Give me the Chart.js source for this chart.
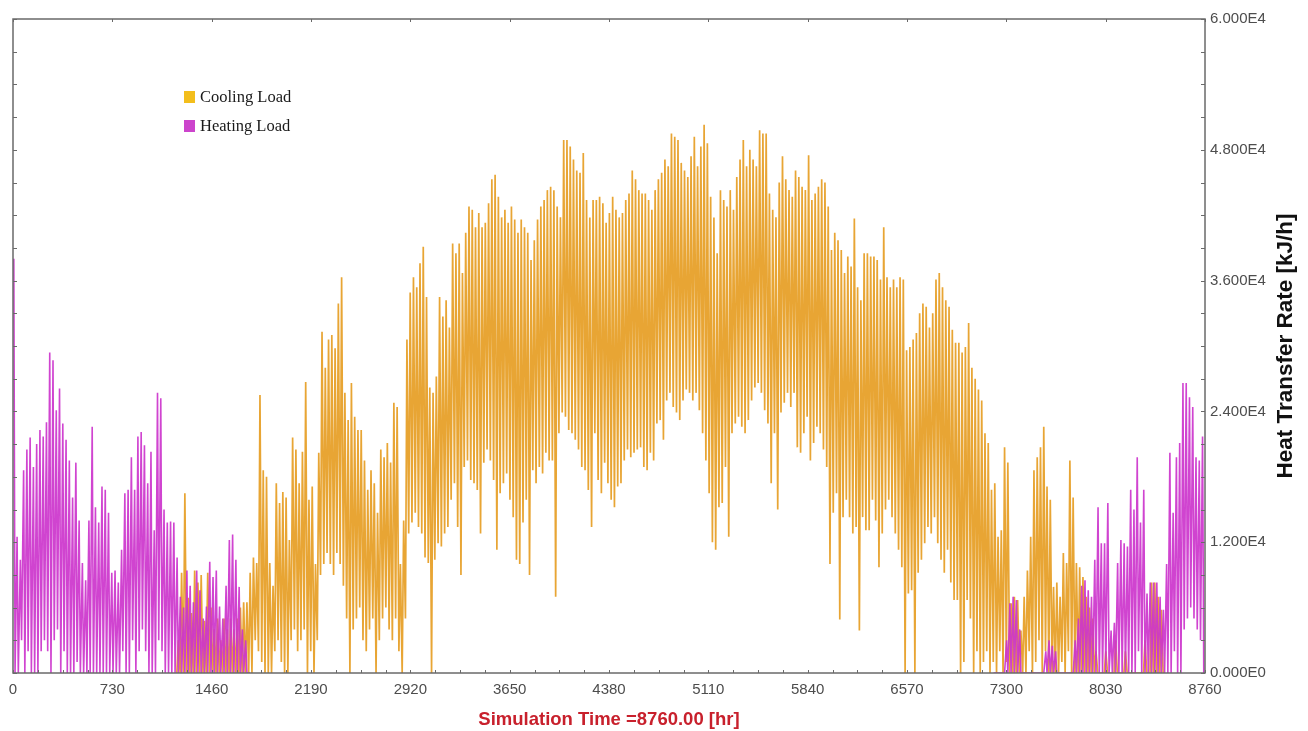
<!DOCTYPE html>
<html>
<head>
<meta charset="utf-8">
<script src="https://cdn.jsdelivr.net/npm/chart.js@4.4.1/dist/chart.umd.min.js"></script>
<style>
  html, body { margin: 0; padding: 0; background: #fff; }
  #wrap { width: 1308px; height: 731px; }
</style>
</head>
<body>
<div id="wrap"><canvas id="loadChart" width="1308" height="731"></canvas></div>
<script>
// hourly TRNSYS output read back as one low + one peak per day, values in 1000 kJ/h
const seriesNames = ['Cooling Load', 'Heating Load'];
const xTicks = [0, 730, 1460, 2190, 2920, 3650, 4380, 5110, 5840, 6570, 7300, 8030, 8760];
const yTicks = [0, 12, 24, 36, 48, 60];

const COOL_FIRST_DAY = 50;
const coolPeak = [
  3, 9.2, 16.5, 6.9, 5.5, 9.4, 8.3, 9, 4.8, 9.2,
  6, 4, 5, 3, 5, 4, 5, 4, 5, 6,
  6.5, 6.5, 9.2, 10.6, 10.1, 25.5, 18.6, 18, 10.1, 8,
  17.4, 15.6, 16.6, 16.1, 12.2, 21.6, 20.5, 17.4, 20.3, 26.7,
  15.9, 17.1, 10, 20.2, 31.3, 28, 30.6, 31, 29.8, 33.9,
  36.3, 25.7, 23.2, 26.6, 23.5, 22.3, 22.3, 19.5, 16.8, 18.6,
  17.4, 14.7, 20.5, 19.8, 21.1, 19.3, 24.8, 24.4, 10, 14,
  30.6, 34.9, 36.3, 35.4, 37.6, 39.1, 34.5, 26.2, 25.7, 27.2,
  34.5, 32.7, 34.2, 31.7, 39.4, 38.5, 39.4, 36.7, 40.4, 42.8,
  42.5, 40.9, 42.2, 40.9, 41.3, 43.1, 45.3, 45.7, 43.7, 41.8,
  42.5, 41.3, 42.8, 41.6, 40.4, 41.6, 40.9, 40.4, 37.9, 39.7,
  41.6, 42.8, 43.4, 44.3, 44.6, 44.3, 42.8, 41.8, 48.9, 48.9,
  48.3, 47.1, 46.1, 45.9, 47.7, 43.4, 41.8, 43.4, 43.4, 43.7,
  43.1, 41.3, 42.2, 43.7, 42.5, 41.8, 42.2, 43.4, 44, 46.1,
  45.3, 44.3, 44, 44, 43.4, 42.5, 44.3, 45.3, 45.9, 47.1,
  46.5, 49.5, 49.2, 48.9, 46.8, 46.1, 45.5, 47.4, 49.2, 46.5,
  48.3, 50.3, 48.6, 43.7, 41.8, 38.5, 44.3, 43.4, 42.8, 44.3,
  42.5, 45.5, 47.1, 48.9, 46.5, 48, 47.1, 46.5, 49.8, 49.5,
  49.5, 44, 42.5, 41.8, 45, 47.4, 45.3, 44.3, 43.7, 46.1,
  45.5, 44.6, 44.3, 47.5, 43.4, 44, 44.6, 45.3, 45, 42.8,
  38.8, 40.4, 39.7, 38.8, 36.7, 38.2, 37.3, 41.7, 35.4, 34.2,
  38.5, 38.5, 38.2, 38.2, 37.9, 36.1, 40.9, 36.3, 35.4, 36.1,
  35.4, 36.3, 36.1, 29.6, 29.9, 30.6, 31.2, 33, 33.9, 33.6,
  31.7, 33, 36.1, 36.7, 35.4, 34.2, 33.6, 31.5, 30.3, 30.3,
  29.4, 29.9, 32.1, 28, 27, 26, 25, 22, 21.1, 16.8,
  17.4, 12.5, 13.1, 20.7, 19.3, 6.4, 7, 6.7, 3.9, 7,
  9.4, 12.5, 18.6, 19.8, 20.7, 22.6, 17.1, 15.9, 7.9, 8.3,
  7, 11, 10.1, 19.5, 16.1, 10.1, 9.7, 8.8, 7, 6,
  5, 2, 0, 0, 2, 0, 0, 3, 0, 0,
  2, 0, 0, 0, 0, 0, 3, 0, 8.3, 8.3,
  7, 5.8, 0
];
const coolLow = [
  0, 0, 0, 0, 0, 0, 0, 0, 0, 0,
  0, 0, 0, 0, 0, 0, 0, 0, 0, 0,
  0, 0, 0, 0, 3, 2, 1, 0, 0, 0,
  2, 3, 1, 0, 0, 3, 4, 2, 3, 4,
  0, 2, 0, 3, 9, 10, 11, 10, 9, 11,
  10, 8, 5, 0, 4, 5, 6, 3, 2, 4,
  5, 0, 3, 5, 6, 4, 3, 5, 2, 0,
  5, 12.8, 13.8, 14.7, 13.4, 12.8, 10.6, 10.1, 0, 10.4,
  11.9, 11.6, 12.8, 13.4, 15.9, 17.4, 13.4, 9, 18.9, 19.5,
  17.7, 17.4, 16.8, 12.8, 19.3, 20.5, 19.5, 17.7, 11.3, 16.5,
  17.4, 18.3, 15.9, 14.3, 10.4, 10, 13.8, 15.9, 9, 18.6,
  17.4, 18.9, 18.3, 20.2, 19.5, 19.5, 7, 22, 23.9, 23.5,
  22.3, 22, 21.4, 20.5, 18.9, 18.6, 16.8, 13.4, 22, 17.7,
  16.5, 19.3, 17.4, 15.9, 15.2, 17.1, 17.4, 19.5, 20.5, 19.8,
  20.2, 20.5, 20.7, 18.9, 18.6, 20.2, 19.5, 22.9, 23.2, 21.4,
  25, 25.7, 24.4, 23.9, 23.2, 25, 26, 25.7, 25, 25.7,
  24.1, 22, 19.5, 16.5, 12, 11.3, 15.2, 15.6, 18.9, 12.5,
  22, 22.9, 23.5, 22.6, 22, 23.2, 25, 26.2, 26.6, 25.7,
  24.1, 22.9, 17.4, 22, 15, 23.9, 24.8, 25.7, 24.4, 25.7,
  20.7, 20.2, 22, 23.5, 19.5, 21.1, 22.6, 22, 20.5, 18.9,
  10, 14.7, 16.5, 4.9, 14.3, 15.9, 14.3, 12.8, 13.4, 3.9,
  14.3, 13.1, 13.1, 15.9, 14, 9.7, 12.8, 15, 15.9, 14.3,
  12.8, 11.3, 9.7, 0, 7.3, 7.6, 0, 9.2, 10.4, 11.9,
  13.4, 12.8, 14.3, 11.9, 10.4, 9.2, 11.3, 8.3, 6.7, 6.7,
  0, 1, 6.7, 5, 0, 2, 0, 1, 2, 0,
  1, 0, 2, 0, 1, 0, 0, 0, 0, 0,
  0, 2, 0, 1, 3, 0, 2, 0, 0, 0,
  0, 1, 0, 2, 0, 0, 0, 0, 0, 0,
  0, 0, 0, 0, 0, 0, 0, 0, 0, 0,
  0, 0, 0, 0, 0, 0, 0, 0, 0, 0,
  0, 0, 0
];

// heating: start of year and end of year
const HEAT_A_FIRST_DAY = 0;
const heatAPeak = [
  38, 12.5, 10.4, 18.6, 20.5, 21.6, 18.9, 21, 22.3, 21.7,
  23, 29.4, 28.7, 24.1, 26.1, 22.9, 21.4, 19.5, 16.1, 19.3,
  14, 10.1, 8.5, 14, 22.6, 15.2, 13.8, 17.1, 16.8, 14.7,
  9.2, 9.4, 8.3, 11.3, 16.5, 16.8, 19.8, 16.8, 21.7, 22.1,
  20.9, 17.4, 20.3, 13.1, 25.7, 25.2, 15, 13.8, 13.9, 13.8,
  10.6, 7, 6, 9.4, 8, 6.5, 9.4, 7.6, 5, 6.1,
  10.2, 8.8, 9.4, 6.1, 5, 8, 12.2, 12.7, 10.4, 7.9,
  4, 3, 0
];
const heatALow = [
  0, 0, 3, 0, 2, 0, 0, 0, 2, 3,
  2, 0, 3, 4, 0, 2, 0, 0, 0, 1,
  0, 0, 0, 0, 0, 0, 0, 0, 0, 0,
  0, 0, 0, 2, 0, 0, 3, 0, 2, 4,
  2, 0, 0, 0, 3, 2, 0, 0, 0, 0,
  0, 0, 0, 0, 0, 0, 0, 0, 0, 0,
  0, 0, 0, 0, 0, 0, 0, 0, 0, 0,
  0, 0, 0
];
const HEAT_B_FIRST_DAY = 300;
const heatBPeak = [
  0, 0, 0, 0, 3, 6.4, 7, 6.7, 4, 0,
  0, 0, 0, 0, 0, 0, 2, 3, 2.5, 2,
  0, 0, 0, 0, 0, 3, 5, 8, 8.5, 7.6,
  7, 10.4, 15.2, 11.9, 11.9, 15.6, 3.9, 4.6, 10.1, 12.2,
  11.9, 11.6, 16.8, 15, 19.8, 13.8, 16.8, 7.3, 8.3, 8.3,
  8.3, 7, 5.8, 10, 20.2, 14.7, 19.8, 21.1, 26.6, 26.6,
  25.3, 24.4, 19.8, 19.5, 21.7
];
const heatBLow = [
  0, 0, 0, 0, 0, 0, 0, 0, 0, 0,
  0, 0, 0, 0, 0, 0, 0, 0, 0, 0,
  0, 0, 0, 0, 0, 0, 0, 0, 0, 0,
  0, 0, 0, 0, 0, 0, 0, 0, 0, 0,
  0, 0, 0, 0, 2, 0, 0, 0, 0, 0,
  0, 0, 0, 0, 0, 2, 0, 0, 4, 5,
  6, 5, 4, 3, 0
];

// hour of the day where the low / peak sits
const COOL_LOW_HOUR = 4, COOL_PEAK_HOUR = 15;
const HEAT_PEAK_HOUR = 6, HEAT_LOW_HOUR = 15;

const coolColor = '#E8A534';
const heatColor = 'rgba(204,52,204,0.92)';
const swatches = ['#F3BE1C', '#CC44CC'];

function dailyPoints(firstDay, lows, peaks, lowHour, peakHour) {
  const pts = [];
  peaks.forEach((p, i) => {
    const base = (firstDay + i) * 24;
    const a = {x: base + lowHour, y: lows[i]};
    const b = {x: base + peakHour, y: p};
    if (lowHour < peakHour) pts.push(a, b); else pts.push(b, a);
  });
  return pts;
}

function sci(v) {
  if (v === 0) return '0.000E0';
  const e = Math.floor(Math.log10(v) + 1e-9);
  return (v / Math.pow(10, e)).toFixed(3) + 'E' + e;
}

const coolData = dailyPoints(COOL_FIRST_DAY, coolLow, coolPeak, COOL_LOW_HOUR, COOL_PEAK_HOUR);
const heatData = dailyPoints(HEAT_A_FIRST_DAY, heatALow, heatAPeak, HEAT_LOW_HOUR, HEAT_PEAK_HOUR)
  .concat([{x: (HEAT_A_FIRST_DAY + heatAPeak.length) * 24, y: null}])
  .concat(dailyPoints(HEAT_B_FIRST_DAY, heatBLow, heatBPeak, HEAT_LOW_HOUR, HEAT_PEAK_HOUR));

const framePlugin = {
  id: 'frame',
  afterDraw(chart) {
    const {ctx, chartArea: a, scales: {x, y}} = chart;
    ctx.save();
    ctx.strokeStyle = '#6a6a6a';
    ctx.lineWidth = 1.5;
    ctx.strokeRect(a.left, a.top, a.right - a.left, a.bottom - a.top);

    // small inward tick marks
    ctx.lineWidth = 1;
    ctx.beginPath();
    for (let v = 0; v <= 60; v += 3) {
      const py = Math.round(y.getPixelForValue(v)) + 0.5;
      ctx.moveTo(a.left, py); ctx.lineTo(a.left + 4, py);
      ctx.moveTo(a.right, py); ctx.lineTo(a.right - 4, py);
    }
    for (let h = 0; h <= 8760; h += 182.5) {
      const px = Math.round(x.getPixelForValue(h)) + 0.5;
      ctx.moveTo(px, a.bottom); ctx.lineTo(px, a.bottom - 3);
      if (h % 730 === 0) { ctx.moveTo(px, a.top); ctx.lineTo(px, a.top + 3); }
    }
    ctx.stroke();

    // legend
    ctx.font = '16.5px "Liberation Serif", "Times New Roman", serif';
    ctx.textBaseline = 'middle';
    ctx.textAlign = 'left';
    seriesNames.forEach((name, i) => {
      const top = 91 + i * 29;
      ctx.fillStyle = swatches[i];
      ctx.fillRect(184, top, 11, 12);
      ctx.fillStyle = '#1a1a1a';
      ctx.fillText(name, 200, top + 7);
    });

    // right axis title, reading bottom to top
    ctx.translate(1286, (a.top + a.bottom) / 2);
    ctx.rotate(-Math.PI / 2);
    ctx.textAlign = 'center';
    ctx.fillStyle = '#111';
    ctx.font = 'bold 22.5px "Liberation Sans", Arial, sans-serif';
    ctx.fillText('Heat Transfer Rate [kJ/h]', 0, 0);
    ctx.restore();
  }
};

new Chart(document.getElementById('loadChart'), {
  type: 'line',
  data: {
    datasets: [
      {label: seriesNames[0], data: coolData, borderColor: coolColor, borderWidth: 1.7, order: 2},
      {label: seriesNames[1], data: heatData, borderColor: heatColor, borderWidth: 1.6, order: 1}
    ]
  },
  options: {
    responsive: false,
    animation: false,
    devicePixelRatio: 1,
    parsing: false,
    normalized: true,
    spanGaps: false,
    elements: {point: {radius: 0}, line: {tension: 0, fill: false}},
    layout: {padding: {left: 13, top: 19, right: 0, bottom: 0}},
    plugins: {legend: {display: false}, tooltip: {enabled: false}},
    scales: {
      x: {
        type: 'linear',
        min: xTicks[0],
        max: xTicks[xTicks.length - 1],
        afterBuildTicks: s => { s.ticks = xTicks.map(v => ({value: v})); },
        afterFit: s => { s.height = 58; },
        grid: {display: false, drawTicks: false},
        border: {display: false},
        ticks: {
          autoSkip: false, maxRotation: 0, padding: 8, color: '#4d4d4d',
          font: {family: '"Liberation Sans", Arial, sans-serif', size: 15},
          callback: v => String(v)
        },
        title: {
          display: true, text: 'Simulation Time =8760.00 [hr]', color: '#C8202C',
          font: {family: '"Liberation Sans", Arial, sans-serif', size: 18.5, weight: 'bold'},
          padding: {top: 0, bottom: 0}
        }
      },
      y: {
        type: 'linear',
        position: 'right',
        min: yTicks[0],
        max: yTicks[yTicks.length - 1],
        afterBuildTicks: s => { s.ticks = yTicks.map(v => ({value: v})); },
        afterFit: s => { s.width = 103; },
        grid: {display: false, drawTicks: false},
        border: {display: false},
        ticks: {
          padding: 5, color: '#4d4d4d',
          font: {family: '"Liberation Sans", Arial, sans-serif', size: 15},
          callback: v => sci(v * 1000)
        }
      }
    }
  },
  plugins: [framePlugin]
});
</script>
</body>
</html>
